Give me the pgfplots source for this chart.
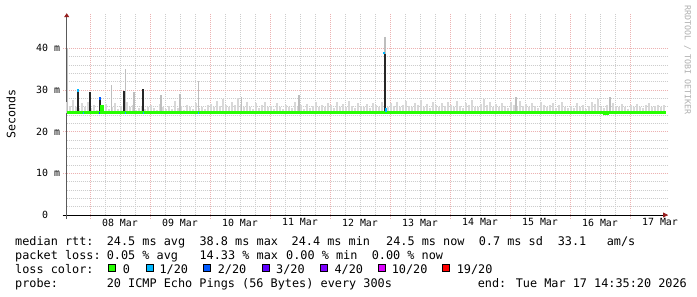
\documentclass[border=0pt]{standalone}
\usepackage{pgfplots}
\pgfplotsset{compat=1.18}
\usepackage{pgfplotstable}
\usetikzlibrary{arrows.meta}
\usepackage{fontspec}
\newfontfamily\mono{DejaVu Sans Mono}
\definecolor{gridred}{RGB}{236,178,178}
\definecolor{gridgray}{RGB}{205,205,205}
\definecolor{smoke}{RGB}{216,216,216}
\definecolor{spikegray}{RGB}{190,190,190}
\definecolor{medgreen}{RGB}{38,255,0}
\definecolor{loss1}{RGB}{0,184,255}
\definecolor{loss2}{RGB}{0,89,255}
\definecolor{loss3}{RGB}{94,0,255}
\definecolor{loss4}{RGB}{126,0,255}
\definecolor{loss10}{RGB}{221,0,255}
\definecolor{loss19}{RGB}{255,0,0}
\definecolor{arrowred}{RGB}{150,30,30}
\definecolor{yaxisgray}{RGB}{90,90,90}
\definecolor{rrdgray}{RGB}{175,175,175}

\pgfplotstableread[row sep=\\]{
x hi\\
7.62 27.0\\ 7.67 26.2\\ 7.72 27.6\\ 7.77 26.0\\ 7.82 25.6\\ 7.87 26.8\\ 7.92 25.8\\ 7.97 27.2\\
8.02 25.6\\ 8.07 26.4\\ 8.12 25.2\\ 8.17 26.2\\ 8.22 25.8\\ 8.27 26.6\\ 8.32 25.4\\ 8.37 25.9\\ 8.42 26.8\\ 8.47 25.5\\
8.52 26.2\\ 8.57 25.3\\ 8.62 27.0\\ 8.67 25.8\\ 8.72 26.4\\ 8.77 25.2\\ 8.82 25.7\\ 8.87 26.0\\ 8.92 25.4\\ 8.97 25.9\\
9.02 26.3\\ 9.07 25.6\\ 9.12 25.3\\ 9.17 26.6\\ 9.22 25.8\\ 9.27 25.4\\ 9.32 26.2\\ 9.37 25.5\\ 9.42 27.4\\ 9.47 25.7\\
9.52 26.1\\ 9.57 25.3\\ 9.62 26.5\\ 9.67 25.9\\ 9.72 25.4\\ 9.77 26.8\\ 9.82 25.6\\ 9.87 26.0\\ 9.92 25.5\\ 9.97 26.4\\
10.02 26.7\\ 10.07 25.8\\ 10.12 27.3\\ 10.17 26.2\\ 10.22 27.8\\ 10.27 26.4\\ 10.32 25.9\\ 10.37 27.1\\ 10.42 26.3\\ 10.47 28.0\\
10.52 26.6\\ 10.57 25.8\\ 10.62 27.2\\ 10.67 26.0\\ 10.72 25.5\\ 10.77 26.9\\ 10.82 25.7\\ 10.87 26.4\\ 10.92 27.0\\ 10.97 25.9\\
11.02 26.1\\ 11.07 25.5\\ 11.12 26.8\\ 11.17 25.9\\ 11.22 25.4\\ 11.27 26.5\\ 11.32 26.0\\ 11.37 25.6\\ 11.42 27.0\\ 11.47 25.8\\
11.52 26.3\\ 11.57 25.4\\ 11.62 26.7\\ 11.67 25.7\\ 11.72 26.2\\ 11.77 27.2\\ 11.82 25.8\\ 11.87 26.5\\ 11.92 25.9\\ 11.97 26.9\\
12.02 26.4\\ 12.07 25.7\\ 12.12 27.1\\ 12.17 26.0\\ 12.22 26.6\\ 12.27 25.8\\ 12.32 27.3\\ 12.37 26.2\\ 12.42 25.6\\ 12.47 26.8\\
12.52 26.1\\ 12.57 25.9\\ 12.62 26.6\\ 12.67 25.7\\ 12.72 26.9\\ 12.77 26.3\\ 12.82 25.8\\ 12.87 27.0\\ 12.92 26.4\\ 12.97 25.9\\
13.02 26.8\\ 13.07 26.1\\ 13.12 27.2\\ 13.17 25.9\\ 13.22 26.5\\ 13.27 27.4\\ 13.32 26.2\\ 13.37 25.8\\ 13.42 26.9\\ 13.47 26.4\\
13.52 27.6\\ 13.57 26.0\\ 13.62 26.7\\ 13.67 25.7\\ 13.72 27.1\\ 13.77 26.3\\ 13.82 25.9\\ 13.87 26.8\\ 13.92 26.2\\ 13.97 27.0\\
14.02 26.5\\ 14.07 25.9\\ 14.12 27.3\\ 14.17 26.2\\ 14.22 25.7\\ 14.27 26.9\\ 14.32 26.4\\ 14.37 27.5\\ 14.42 26.0\\ 14.47 25.8\\
14.52 26.7\\ 14.57 27.8\\ 14.62 26.3\\ 14.67 27.2\\ 14.72 26.0\\ 14.77 26.6\\ 14.82 25.9\\ 14.87 26.8\\ 14.92 26.2\\ 14.97 25.7\\
15.02 27.0\\ 15.07 26.4\\ 15.12 25.8\\ 15.17 27.3\\ 15.22 26.1\\ 15.27 26.6\\ 15.32 25.9\\ 15.37 26.9\\ 15.42 26.2\\ 15.47 25.7\\
15.52 27.1\\ 15.57 26.5\\ 15.62 25.8\\ 15.67 26.3\\ 15.72 26.9\\ 15.77 25.7\\ 15.82 26.4\\ 15.87 27.0\\ 15.92 26.0\\ 15.97 25.6\\
16.02 26.2\\ 16.07 25.6\\ 16.12 26.8\\ 16.17 25.9\\ 16.22 26.4\\ 16.27 25.5\\ 16.32 26.1\\ 16.37 27.0\\ 16.42 26.6\\ 16.47 27.8\\
16.52 26.0\\ 16.57 25.7\\ 16.62 26.5\\ 16.67 25.9\\ 16.72 26.9\\ 16.77 26.2\\ 16.82 25.8\\ 16.87 26.6\\ 16.92 26.0\\ 16.97 25.5\\
17.02 26.3\\ 17.07 25.8\\ 17.12 26.7\\ 17.17 26.0\\ 17.22 25.6\\ 17.27 26.4\\ 17.32 26.8\\ 17.37 25.9\\ 17.42 26.2\\ 17.47 26.5\\
17.52 25.8\\ 17.57 26.3\\
}\smoketable

\pgfplotstableread[row sep=\\]{
x hi\\
7.622 40.0\\ 8.362 31.1\\ 8.588 35.0\\ 8.733 29.5\\ 9.183 28.7\\ 9.500 29.1\\ 9.805 32.1\\
10.528 28.3\\ 11.483 28.7\\ 12.917 42.7\\ 15.100 28.3\\ 16.667 28.3\\
}\spiketable

\pgfplotstableread[row sep=\\]{
x hi\\
7.800 29.9\\ 8.000 29.5\\ 8.167 28.2\\ 8.572 29.7\\ 8.888 30.2\\ 12.917 38.7\\
}\blacktable

\begin{document}
\begin{tikzpicture}
\path[use as bounding box, fill=white] (0,0) rectangle (697bp,-297bp);
\begin{axis}[
  at={(66.7bp,-215bp)}, anchor=south west,
  scale only axis, width=601.3bp, height=201.8bp,
  xmin=7.612, xmax=17.633, ymin=0, ymax=48.4,
  axis lines=left,
  x axis line style={black, line width=0.8bp, shorten <=-4bp, -{Triangle[length=5bp,width=5bp,color=arrowred]}},
  y axis line style={yaxisgray, line width=0.8bp, shorten <=-4bp, -{Triangle[length=4bp,width=5bp,color=arrowred]}},
  xtick={8,...,17}, xticklabels={},
  minor x tick num=3,
  extra x ticks={8.5,9.5,10.5,11.5,12.5,13.5,14.5,15.5,16.5,17.5},
  extra x tick labels={08 Mar,09 Mar,10 Mar,11 Mar,12 Mar,13 Mar,14 Mar,15 Mar,16 Mar,17 Mar},
  extra x tick style={grid=none, major tick length=0pt},
  ytick={0,10,20,30,40},
  yticklabels={0\hphantom{\ m},10 m,20 m,30 m,40 m},
  minor y tick num=4,
  grid=both,
  major grid style={gridred, line width=0.7bp, dash pattern=on 1bp off 1bp},
  minor grid style={gridgray, line width=0.7bp, dash pattern=on 1bp off 1bp},
  tick align=outside,
  major tick length=3.5bp, minor tick length=0pt,
  major tick style={gridred, line width=0.7bp, dash pattern=on 1bp off 1bp},
  ticklabel style={font=\mono\fontsize{9.9bp}{11bp}\selectfont, inner sep=0pt, text=black},
  xticklabel style={anchor=north, yshift=-3.5bp},
  yticklabel style={anchor=east, xshift=-3bp},
  unbounded coords=jump,
  clip=false,
]
% smoke
\addplot[draw=none, no markers, error bars/.cd, y dir=minus, y explicit,
  error mark=none, error bar style={line width=1.6bp, smoke, solid}]
  table[x=x, y=hi, y error expr=\thisrow{hi}-24.5]{\smoketable};
% tall smoke spikes
\addplot[draw=none, no markers, error bars/.cd, y dir=minus, y explicit,
  error mark=none, error bar style={line width=1.1bp, spikegray, solid}]
  table[x=x, y=hi, y error expr=\thisrow{hi}-24.5]{\spiketable};
% black bars
\addplot[draw=none, no markers, error bars/.cd, y dir=minus, y explicit,
  error mark=none, error bar style={line width=1.9bp, black!85, solid}]
  table[x=x, y=hi, y error expr=\thisrow{hi}-24.5]{\blacktable};
% median line
\addplot[const plot, medgreen, line width=2.8bp] coordinates {
  (7.612,24.55) (8.190,24.55) (8.190,26.1) (8.207,26.1) (8.207,24.55)
  (16.567,24.55) (16.567,24.3) (16.600,24.3) (16.600,24.55)
  (16.617,24.55) (16.617,24.3) (16.633,24.3) (16.633,24.55) (17.600,24.55)
};
% loss colour marks
\addplot[loss1, line width=1.9bp] coordinates {
  (7.800,29.5) (7.800,30.2) (7.8,nan)
  (7.878,24.55) (7.902,24.55) (7.9,nan)
  (8.580,24.55) (8.600,24.55) (8.6,nan)
  (8.885,24.55) (8.900,24.55) (8.9,nan)
  (9.800,24.55) (9.820,24.55) (9.82,nan)
  (12.905,38.5) (12.905,39.2) (12.91,nan)
  (12.935,24.7) (12.935,25.6)
};
\addplot[loss2, line width=1.9bp] coordinates {
  (8.167,27.7) (8.167,28.3) (8.17,nan)
  (8.150,24.55) (8.165,24.55)
};
\end{axis}
% y label
\node[rotate=90, font=\mono\fontsize{11.6bp}{13bp}\selectfont, inner sep=0pt] at (11bp,-114bp) {Seconds};
% rrdtool credit
\node[rotate=-90, font=\mono\fontsize{8.3bp}{9bp}\selectfont, text=rrdgray, inner sep=0pt] at (687.5bp,-60bp) {RRDTOOL / TOBI OETIKER};
% legend
\begin{scope}[every node/.style={font=\mono\fontsize{11.84bp}{14bp}\selectfont, inner sep=0pt, anchor=base west}]
\node at (15bp,-245bp) {median rtt:};
\node at (106.6bp,-245bp) {24.5 ms avg};
\node at (199.4bp,-245bp) {38.8 ms max};
\node at (291.5bp,-245bp) {24.4 ms min};
\node at (386bp,-245bp) {24.5 ms now};
\node at (478.6bp,-245bp) {0.7 ms sd};
\node at (557.6bp,-245bp) {33.1};
\node at (606.6bp,-245bp) {am/s};
\node at (15bp,-259.3bp) {packet loss:};
\node at (106.6bp,-259.3bp) {0.05 \% avg};
\node at (199.4bp,-259.3bp) {14.33 \% max};
\node at (286bp,-259.3bp) {0.00 \% min};
\node at (371.6bp,-259.3bp) {0.00 \% now};
\node at (15bp,-273bp) {loss color:};
\node at (122.6bp,-273bp) {0};
\node at (159.4bp,-273bp) {1/20};
\node at (217.6bp,-273bp) {2/20};
\node at (276bp,-273bp) {3/20};
\node at (334.4bp,-273bp) {4/20};
\node at (391.6bp,-273bp) {10/20};
\node at (456.6bp,-273bp) {19/20};
\node at (15bp,-287.3bp) {probe:};
\node at (106.6bp,-287.3bp) {20 ICMP Echo Pings (56 Bytes) every 300s};
\node at (477.6bp,-287.3bp) {end: Tue Mar 17 14:35:20 2026};
\end{scope}
% loss colour boxes
\foreach \xx/\cc in {108.5/medgreen,146/loss1,203.5/loss2,262/loss3,320.3/loss4,378/loss10,442.5/loss19}{
  \filldraw[fill=\cc, draw=black, line width=0.7bp] (\xx bp,-264.3bp) rectangle ++(7.2bp,-7.2bp);
}
\end{tikzpicture}
\end{document}
